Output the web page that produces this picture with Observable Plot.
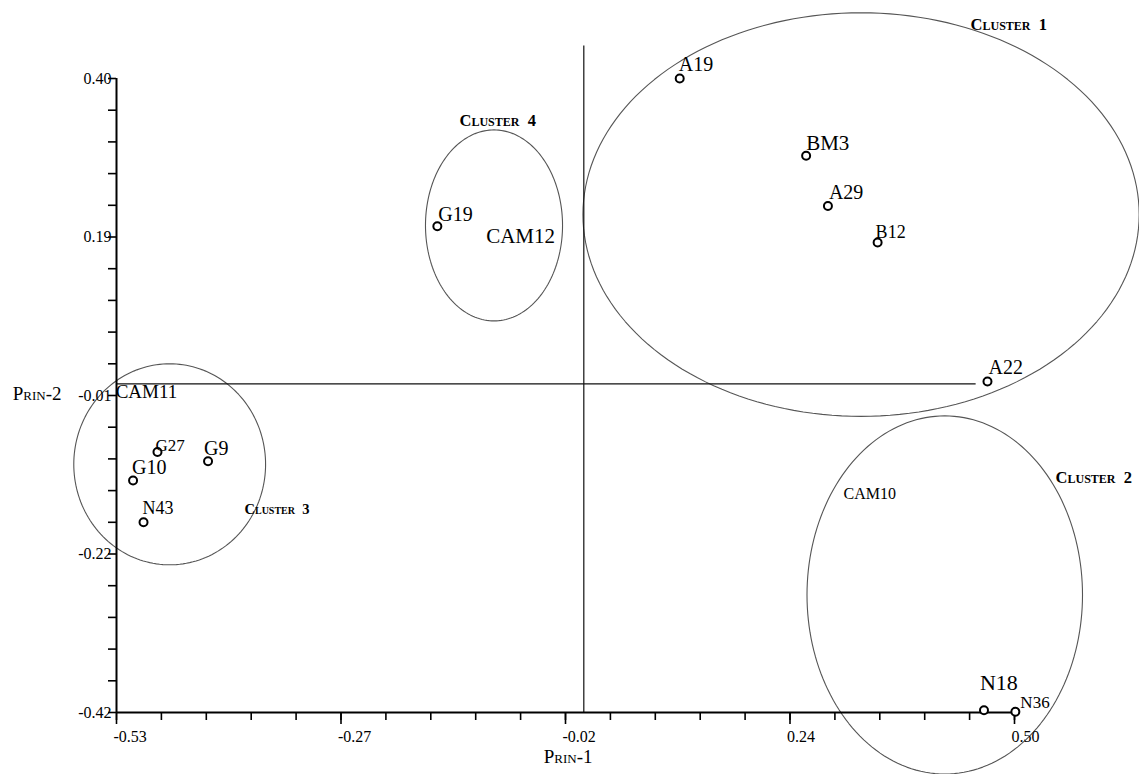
<!DOCTYPE html>
<html>
<head>
<meta charset="utf-8">
<script src="https://cdn.jsdelivr.net/npm/d3@7"></script>
<script src="https://cdn.jsdelivr.net/npm/@observablehq/plot@0.6"></script>
<style>
  html, body { margin: 0; padding: 0; background: #fff; }
  #chart svg { display: block; }
</style>
</head>
<body>
<div id="chart"></div>
<script>
// ---- data ----
const names = ["A19", "BM3", "A29", "B12", "A22", "G19", "G27", "G9", "G10", "N43", "N18", "N36"];
const prin1 = [0.116, 0.261, 0.286, 0.343, 0.469, -0.162, -0.483, -0.425, -0.511, -0.499, 0.465, 0.501];
const prin2 = [0.400, 0.300, 0.235, 0.188, 0.008, 0.209, -0.083, -0.095, -0.120, -0.174, -0.417, -0.419];

// labels drawn without a marker
const extraNames = ["CAM11", "CAM12", "CAM10"];
const extraPrin1 = [-0.531, -0.106, 0.304];
const extraPrin2 = [-0.005, 0.1965, -0.137];

// cluster ellipses (centre and semi-axes in data units)
const clusterNames = ["Cluster\u00a0\u00a01", "Cluster\u00a0\u00a02", "Cluster\u00a0\u00a03", "Cluster\u00a0\u00a04"];
const clusterCx = [0.324, 0.420, -0.469, -0.097];
const clusterCy = [0.224, -0.268, -0.099, 0.210];
const clusterRx = [0.319, 0.158, 0.110, 0.0786];
const clusterRy = [0.261, 0.2316, 0.130, 0.1235];
const clusterLabelX = [0.4496, 0.5471, -0.3832, -0.1366];
const clusterLabelY = [0.4694, -0.1158, -0.1576, 0.3453];

// reference (origin) lines
const originX = 0.006;
const originY = 0.005;

// axis ticks
const xTicks = [-0.53, -0.2725, -0.015, 0.2425, 0.50];
const xTickLabels = ["-0.53", "-0.27", "-0.02", "0.24", "0.50"];
const yTicks = [0.40, 0.195, -0.01, -0.215, -0.42];
const yTickLabels = ["0.40", "0.19", "-0.01", "-0.22", "-0.42"];

// ---- layout / style (not data) ----
const labelStyle = {
  A19: [-1, -14, 20], BM3: [0, -13, 21], A29: [1, -13, 20], B12: [-2, -10, 18],
  A22: [1, -14, 20], G19: [1, -12, 20], G27: [-2, -6, 17], G9: [-4, -13, 20],
  G10: [-1, -13, 20], N43: [-1, -14, 18], N18: [-4, -27, 22], N36: [5, -9, 17]
};
const extraSize = [19, 21, 16];
const clusterSize = [16.5, 16.5, 14.5, 16.5];
const FONT = "'Liberation Serif', 'Times New Roman', serif";

const points = names.map((n, i) => ({name: n, x: prin1[i], y: prin2[i]}));
const extras = extraNames.map((n, i) => ({name: n, x: extraPrin1[i], y: extraPrin2[i], size: extraSize[i]}));

// ellipse outlines
const ellipse = [];
clusterNames.forEach((c, k) => {
  for (let a = 0; a <= 360; a += 2) {
    const t = a * Math.PI / 180;
    ellipse.push({cluster: c, x: clusterCx[k] + clusterRx[k] * Math.cos(t), y: clusterCy[k] + clusterRy[k] * Math.sin(t)});
  }
});
const clusters = clusterNames.map((c, k) => ({name: c, x: clusterLabelX[k], y: clusterLabelY[k], size: clusterSize[k]}));

const xMinor = d3.range(21).map(i => -0.53 + i * 0.0515);
const yMinor = d3.range(21).map(i => -0.42 + i * 0.041);

const marks = [
  Plot.line(ellipse, {x: "x", y: "y", z: "cluster", stroke: "#555", strokeWidth: 1.1}),
  Plot.ruleX([originX], {y1: -0.42, y2: 0.442, stroke: "#111", strokeWidth: 1.2}),
  Plot.ruleY([originY], {x1: -0.53, x2: 0.456, stroke: "#111", strokeWidth: 1.2}),
  // axes
  Plot.axisX({ticks: xMinor, tickSize: 8, tickFormat: () => "", label: null, strokeWidth: 1.6, stroke: "#000"}),
  Plot.axisX({ticks: xTicks, tickSize: 12, tickFormat: () => "", label: null, strokeWidth: 1.6, stroke: "#000"}),
  Plot.axisY({ticks: yMinor, tickSize: 8, tickFormat: () => "", label: null, strokeWidth: 1.6, stroke: "#000"}),
  Plot.ruleY([-0.42], {x1: -0.53, x2: 0.50, stroke: "#000", strokeWidth: 2}),
  Plot.ruleX([-0.53], {y1: -0.42, y2: 0.40, stroke: "#000", strokeWidth: 2}),
  Plot.text(xTicks, {x: d => d, y: -0.42, text: (d, i) => xTickLabels[i], textAnchor: "start", dx: -3, dy: 24, fontSize: 16, fontFamily: FONT, fill: "#000"}),
  Plot.text(yTicks, {x: -0.53, y: d => d, text: (d, i) => yTickLabels[i], textAnchor: "end", dx: -5, fontSize: 16, fontFamily: FONT, fill: "#000"}),
  Plot.text(["Prin-1"], {x: -0.040, y: -0.42, text: d => d, textAnchor: "start", dy: 44, fontSize: 19, fontVariant: "small-caps", fontFamily: FONT, fill: "#000"}),
  Plot.text(["Prin-2"], {x: -0.649, y: -0.01, text: d => d, textAnchor: "start", dy: -2, fontSize: 19, fontVariant: "small-caps", fontFamily: FONT, fill: "#000"}),
  // points
  Plot.dot(points, {x: "x", y: "y", r: 4, stroke: "#000", strokeWidth: 2, fill: "#fff"}),
  ...points.map(p => {
    const [dx, dy, fs] = labelStyle[p.name];
    return Plot.text([p], {x: "x", y: "y", text: "name", textAnchor: "start", dx, dy, fontSize: fs, fontFamily: FONT, fill: "#000"});
  }),
  Plot.text(extras, {x: "x", y: "y", text: "name", textAnchor: "start", fontSize: d => d.size, fontFamily: FONT, fill: "#000"}),
  Plot.text(clusters, {x: "x", y: "y", text: "name", textAnchor: "start", fontSize: d => d.size, fontWeight: "bold", fontVariant: "small-caps", fontFamily: FONT, fill: "#000"})
];

const chart = Plot.plot({
  width: 1139,
  height: 774,
  marginLeft: 116,
  marginRight: 125,
  marginTop: 78,
  marginBottom: 62,
  x: {domain: [-0.53, 0.50]},
  y: {domain: [-0.42, 0.40]},
  style: {fontFamily: FONT, background: "#fff", overflow: "visible"},
  marks
});
document.getElementById("chart").appendChild(chart);
</script>
</body>
</html>
